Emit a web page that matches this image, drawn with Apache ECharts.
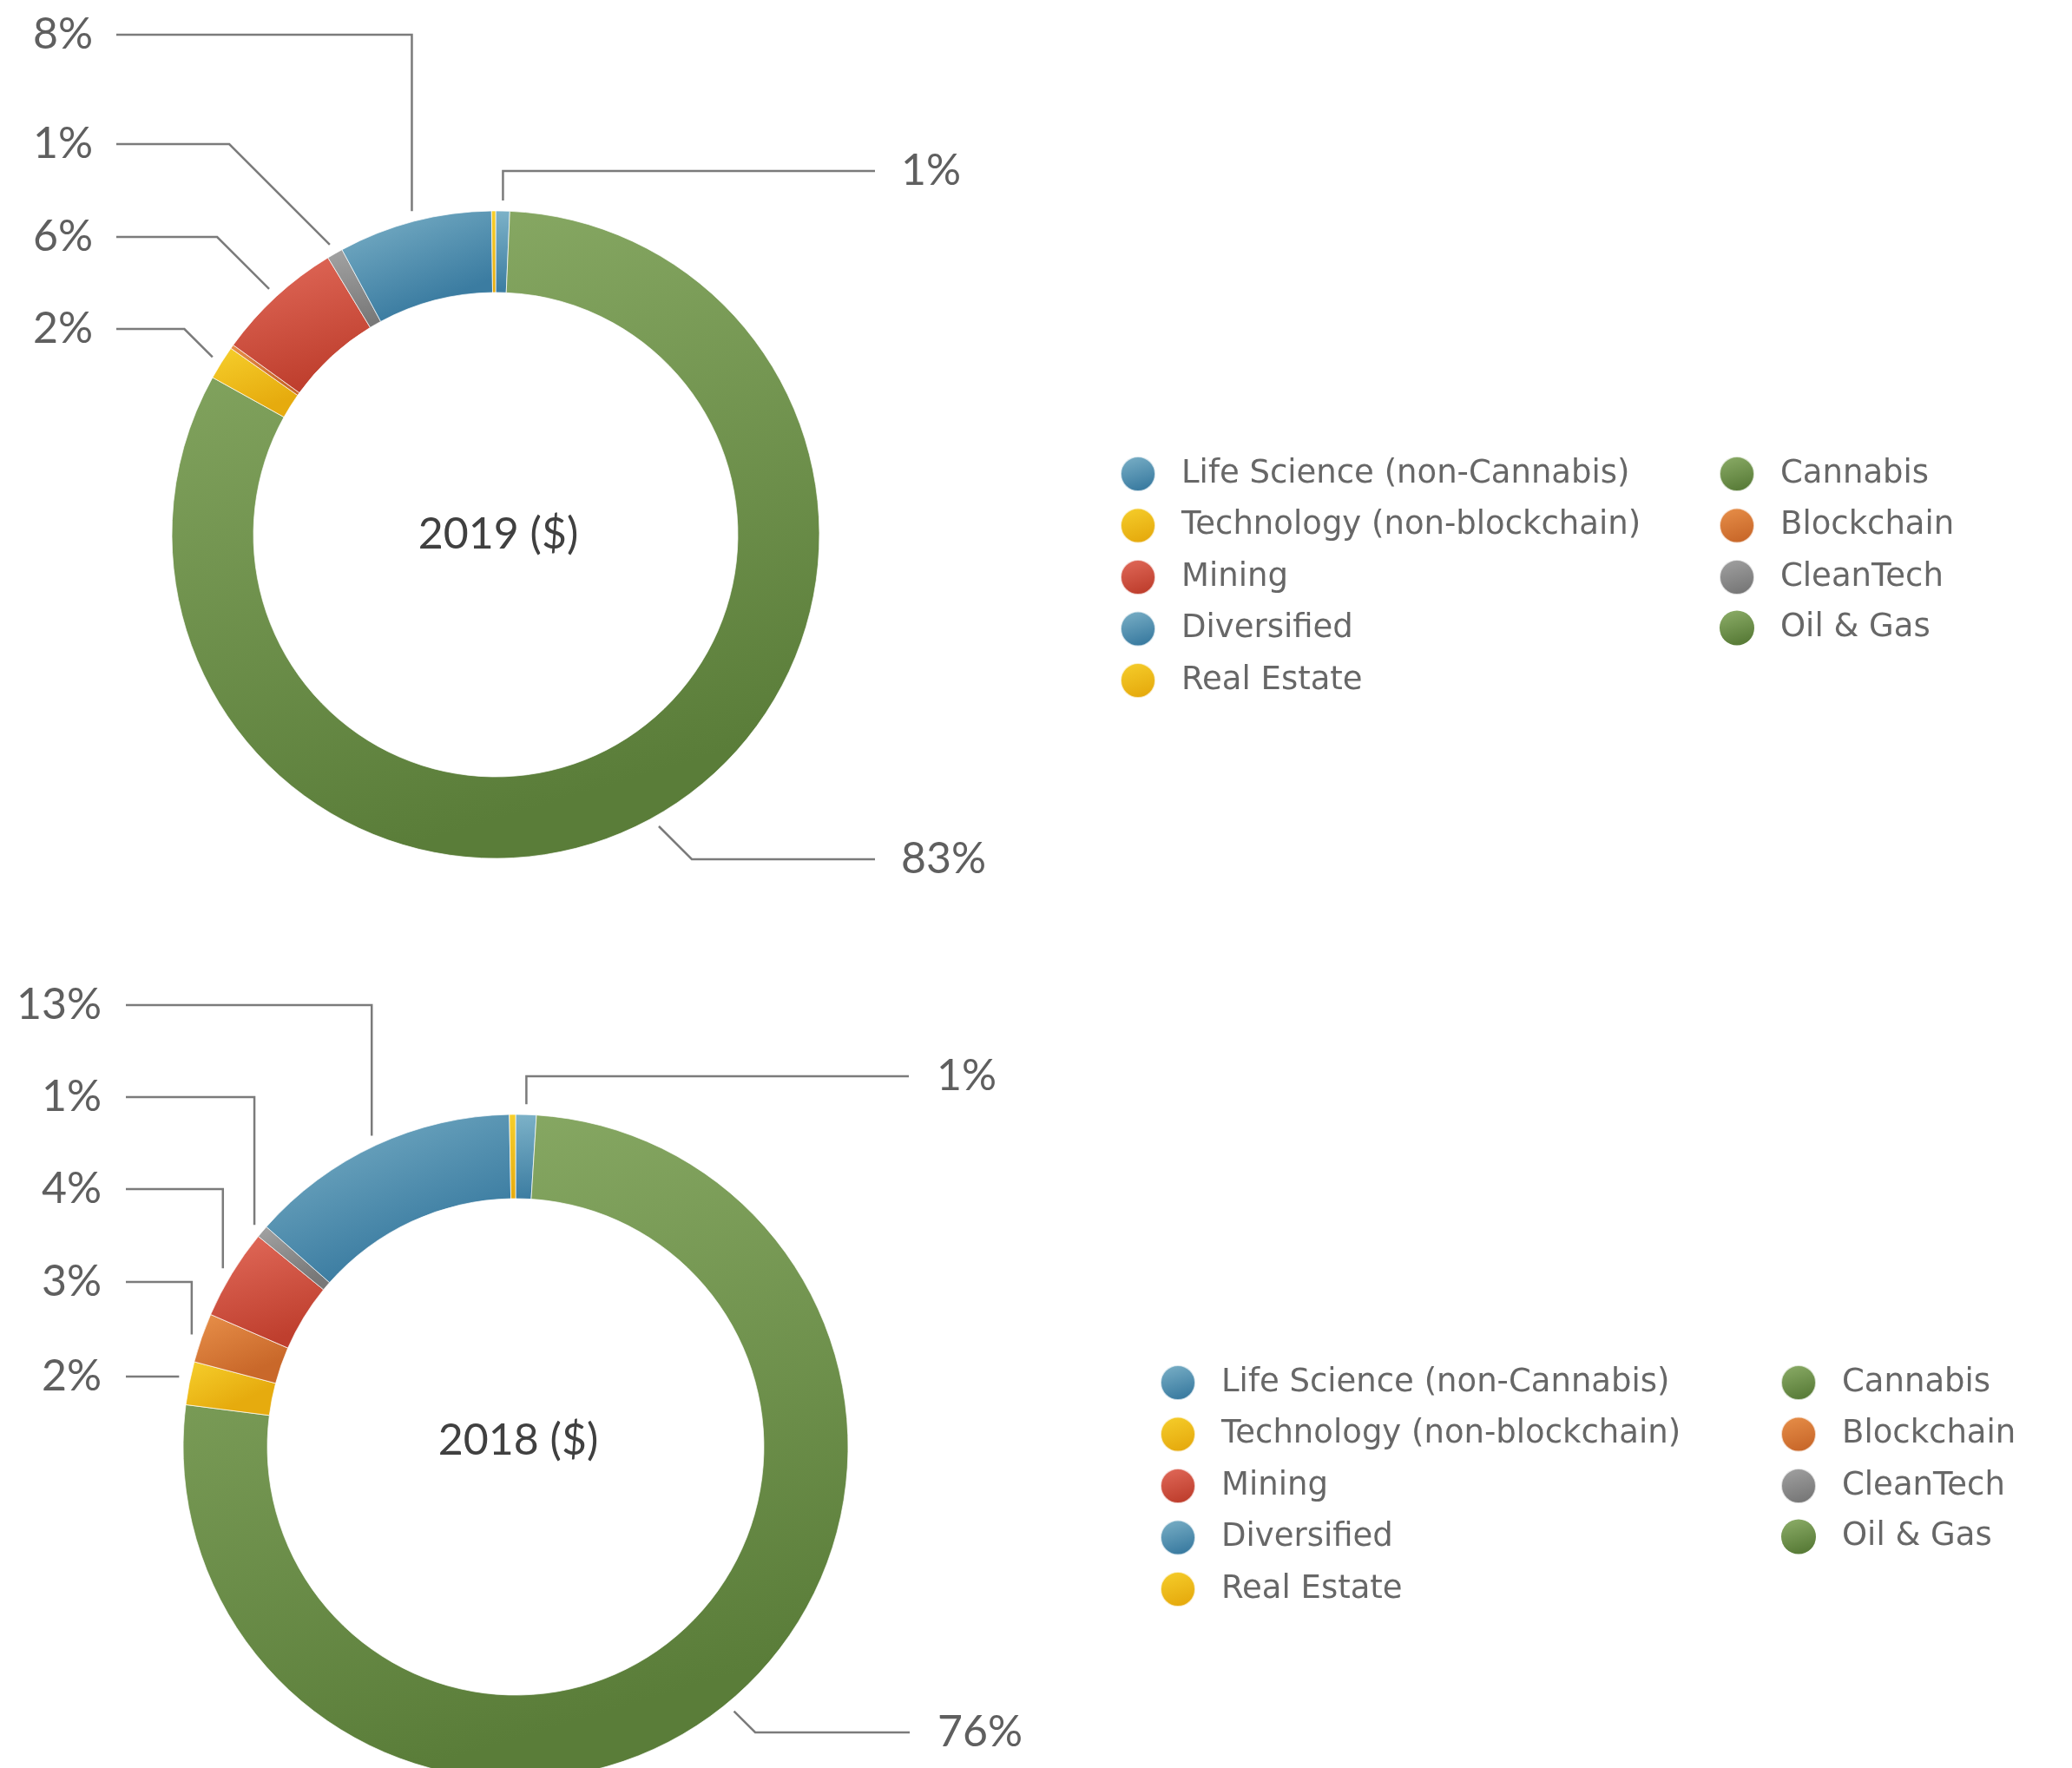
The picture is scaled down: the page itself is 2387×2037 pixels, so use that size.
<!DOCTYPE html>
<html>
<head>
<meta charset="utf-8">
<script src="https://cdn.jsdelivr.net/npm/echarts@6/dist/echarts.min.js"></script>
<style>
  html, body { margin: 0; padding: 0; background: #fff; }
  #main { width: 2387px; height: 2037px; }
</style>
</head>
<body>
<div id="main"></div>
<script>
// slice order, clockwise from 12 o'clock
var names = ['Life Science (non-Cannabis)', 'Cannabis', 'Oil & Gas', 'Real Estate', 'Blockchain',
             'Mining', 'CleanTech', 'Diversified', 'Technology (non-blockchain)'];

// shares (%)
var values2019 = [0.7, 82.7, 0, 1.7, 0.2, 6.4, 0.8, 7.7, 0.2];
var values2018 = [1.0, 76.1, 0, 2.1, 2.4, 4.4, 0.6, 13.2, 0.3];

// percentages printed on the chart (null = no label)
var labels2019 = [1, 83, null, 2, null, 6, 1, 8, null];
var labels2018 = [1, 76, null, 2, 3, 4, 1, 13, null];

var legendCol1 = ['Life Science (non-Cannabis)', 'Technology (non-blockchain)', 'Mining', 'Diversified', 'Real Estate'];
var legendCol2 = ['Cannabis', 'Blockchain', 'CleanTech', 'Oil & Gas'];

function grad(c1, c2) {
    return {
        type: 'linear', x: 0, y: 0, x2: 0.3, y2: 1,
        colorStops: [{ offset: 0, color: c1 }, { offset: 1, color: c2 }]
    };
}
var blue = ['#7db2c8', '#3b7ca1'];
var green = ['#8dae69', '#5a7d39'];
var colors = {
    'Life Science (non-Cannabis)': blue,
    'Cannabis': green,
    'Oil & Gas': green,
    'Real Estate': ['#f6cf2c', '#e6ab0e'],
    'Blockchain': ['#e8904a', '#c9682a'],
    'Mining': ['#e26b5b', '#bf3f2e'],
    'CleanTech': ['#a3a3a3', '#787878'],
    'Diversified': blue,
    'Technology (non-blockchain)': ['#f6cf2c', '#e6ab0e']
};

var FONT = 'Lato';
var GAP = 12;

// label placements: side, text x, text y, end of leader line, elbow kind
var places2019 = {
    'Diversified': ['l', 107, 40, 134, 'v'],
    'CleanTech': ['l', 107, 166, 134, 'd'],
    'Mining': ['l', 107, 273, 134, 'd'],
    'Real Estate': ['l', 107, 379, 134, 'd'],
    'Life Science (non-Cannabis)': ['r', 1038, 197, 1008, 'v'],
    'Cannabis': ['r', 1038, 990, 1008, 'd']
};
var places2018 = {
    'Diversified': ['l', 117, 1158, 145, 'v'],
    'CleanTech': ['l', 117, 1264, 145, 'v'],
    'Mining': ['l', 117, 1370, 145, 'v'],
    'Blockchain': ['l', 117, 1477, 145, 'v'],
    'Real Estate': ['l', 117, 1586, 145, 'h'],
    'Life Science (non-Cannabis)': ['r', 1079, 1240, 1047, 'v'],
    'Cannabis': ['r', 1080, 1996, 1048, 'd']
};

function makeLayout(places) {
    return function (p) {
        var pl = places[names[p.dataIndex]];
        if (!pl || !p.labelLinePoints) return {};
        var a = p.labelLinePoints[0], b = p.labelLinePoints[1];
        var dx = b[0] - a[0], dy = b[1] - a[1];
        var len = Math.sqrt(dx * dx + dy * dy) || 1;
        var ax = a[0] + dx / len * GAP, ay = a[1] + dy / len * GAP;
        var ty = pl[2];
        var pts;
        if (pl[4] === 'h') {
            pts = [[ax, ty], [pl[3], ty]];
        } else {
            var ex = ax;
            if (pl[4] === 'd') ex = ax + (pl[0] === 'l' ? -1 : 1) * Math.abs(ty - ay);
            pts = [[ax, ay], [ex, ty], [pl[3], ty]];
        }
        return {
            x: pl[1], y: ty,
            align: pl[0] === 'l' ? 'right' : 'left',
            verticalAlign: 'middle',
            labelLinePoints: pts
        };
    };
}

function makeData(values, labels) {
    return names.map(function (n, i) {
        var item = {
            name: n, value: values[i],
            itemStyle: { color: grad(colors[n][0], colors[n][1]) }
        };
        if (values[i] === 0) item.itemStyle.borderWidth = 0;
        if (labels[i] === null) {
            item.label = { show: false };
            item.labelLine = { show: false };
        }
        return item;
    });
}

function makePie(center, radius, values, labels, places) {
    return {
        type: 'pie',
        center: center,
        radius: radius,
        startAngle: 90,
        clockwise: true,
        avoidLabelOverlap: false,
        animation: false,
        silent: true,
        itemStyle: { borderColor: 'rgba(255,255,255,0.7)', borderWidth: 1 },
        label: {
            show: true,
            position: 'outside',
            fontFamily: FONT,
            fontSize: 50,
            color: '#5f5f5f',
            formatter: function (p) { return labels[p.dataIndex] + '%'; }
        },
        labelLine: {
            show: true, length: 10, length2: 10, smooth: false,
            lineStyle: { color: '#7b7b7b', width: 2.5 }
        },
        labelLayout: makeLayout(places),
        data: makeData(values, labels)
    };
}

function makeLegend(left, top, data) {
    return {
        orient: 'vertical',
        left: left, top: top,
        icon: 'circle',
        itemWidth: 90, itemHeight: 40, itemGap: 17.5,
        selectedMode: false,
        textStyle: { fontFamily: 'DejaVu Sans', fontSize: 37, color: '#676767', lineHeight: 40 },
        data: data
    };
}

var myChart = echarts.init(document.getElementById('main'));

var option = {
    backgroundColor: '#ffffff',
    animation: false,
    legend: [
        makeLegend(1285, 520, legendCol1),
        makeLegend(1975, 520, legendCol2),
        makeLegend(1331, 1567, legendCol1),
        makeLegend(2046, 1567, legendCol2)
    ],
    graphic: [
        { type: 'text', x: 574, y: 616, style: { text: '2019 ($)', font: '50px Lato', fill: '#404040', align: 'center', verticalAlign: 'middle' } },
        { type: 'text', x: 597, y: 1660, style: { text: '2018 ($)', font: '50px Lato', fill: '#404040', align: 'center', verticalAlign: 'middle' } }
    ],
    series: [
        makePie([571, 616], [279, 373], values2019, labels2019, places2019),
        makePie([594, 1667], [286, 383], values2018, labels2018, places2018)
    ]
};

myChart.setOption(option);
</script>
</body>
</html>
